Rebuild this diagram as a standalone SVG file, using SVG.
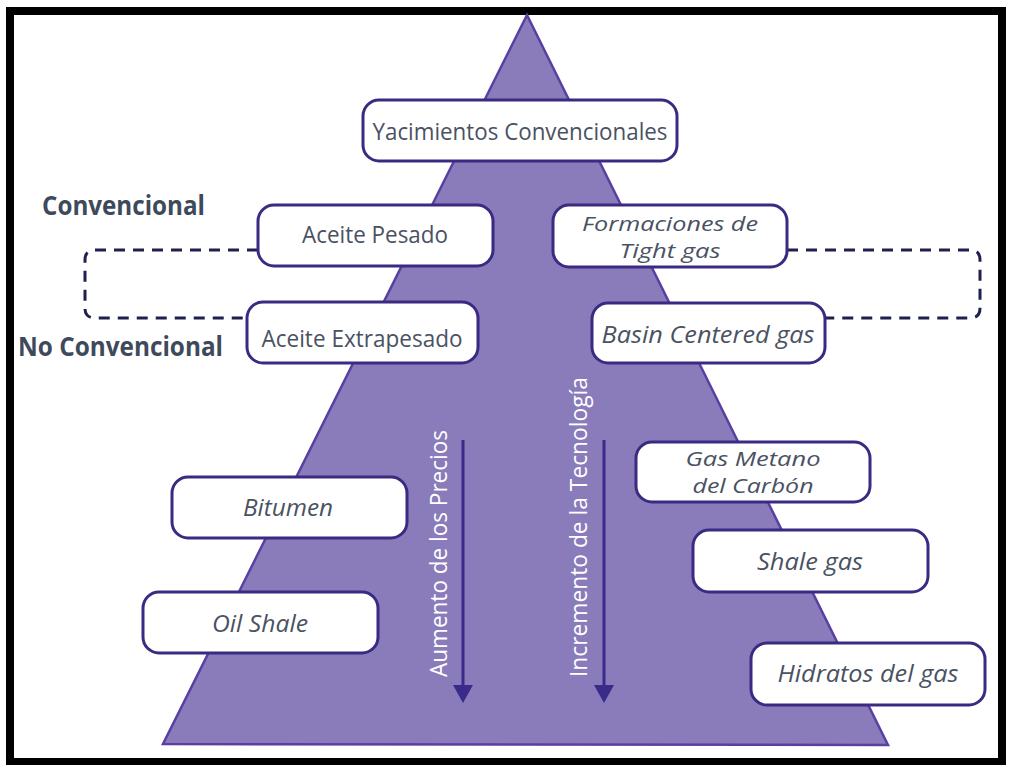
<svg xmlns="http://www.w3.org/2000/svg" width="1010" height="765" viewBox="0 0 1010 765">
<defs>
<style>
.box{fill:#ffffff;stroke:#3b2a82;stroke-width:3}
.t{font-family:"Open Sans","Noto Sans","Liberation Sans",sans-serif;fill:#4a5262;font-size:24px;text-anchor:middle}
.i{font-style:italic}
.sm{font-size:19.5px}
.lbl{font-family:"Open Sans","Noto Sans","Liberation Sans",sans-serif;font-weight:bold;fill:#3e4a5c;font-size:26px}
.rot{font-family:"Open Sans","Noto Sans","Liberation Sans",sans-serif;fill:#ffffff;font-size:23px;text-anchor:middle}
.dash{fill:none;stroke:#1e2150;stroke-width:3;stroke-dasharray:11 8}
.arr{stroke:#3a2a8a;stroke-width:3;fill:none}
</style>
</defs>
<rect x="0" y="0" width="1010" height="765" fill="#ffffff"/>
<rect x="10" y="11" width="992" height="751" fill="none" stroke="#000000" stroke-width="8"/>
<g id="pyramid">
<polygon points="527,15 888,745 163,744" fill="#8a7bbb" stroke="#5a3fa2" stroke-width="2.5"/>
</g>
<g id="connectors">
<path class="dash" d="M258 250 H95 Q85 250 85 260 V308 Q85 318 95 318 H247"/>
<path class="dash" d="M787 250 H970 Q980 250 980 260 V308 Q980 318 970 318 H825"/>
<line class="arr" x1="463" y1="440" x2="463" y2="688"/>
<polygon points="453,685 473,685 463,703" fill="#3a2a8a"/>
<line class="arr" x1="604" y1="440" x2="604" y2="688"/>
<polygon points="594,685 614,685 604,703" fill="#3a2a8a"/>
</g>
<g id="label-precios">
<text class="rot" transform="translate(447,553.5) rotate(-90)" textLength="247" lengthAdjust="spacingAndGlyphs">Aumento de los Precios</text>
</g>
<g id="label-tecnologia">
<text class="rot" transform="translate(587,527) rotate(-90)" textLength="300" lengthAdjust="spacingAndGlyphs">Incremento de la Tecnología</text>
</g>
<g id="label-convencional">
<text class="lbl" x="42" y="215" textLength="163" lengthAdjust="spacingAndGlyphs">Convencional</text>
</g>
<g id="label-noconvencional">
<text class="lbl" x="18" y="356" textLength="205" lengthAdjust="spacingAndGlyphs">No Convencional</text>
</g>
<g id="yacimientos">
<rect class="box" x="363" y="100" width="314" height="61" rx="16"/>
<text class="t" x="520" y="140" textLength="295" lengthAdjust="spacingAndGlyphs">Yacimientos Convencionales</text>
</g>
<g id="aceite-pesado">
<rect class="box" x="258" y="205" width="235" height="61" rx="16"/>
<text class="t" x="375" y="243" textLength="146" lengthAdjust="spacingAndGlyphs">Aceite Pesado</text>
</g>
<g id="aceite-extrapesado">
<rect class="box" x="247" y="302" width="231" height="61" rx="16"/>
<text class="t" x="362" y="347" textLength="201" lengthAdjust="spacingAndGlyphs">Aceite Extrapesado</text>
</g>
<g id="tight-gas">
<rect class="box" x="553" y="205" width="234" height="62" rx="16"/>
<text class="t i sm" x="670" y="231" textLength="176" lengthAdjust="spacingAndGlyphs">Formaciones de</text>
<text class="t i sm" x="670" y="258" textLength="101" lengthAdjust="spacingAndGlyphs">Tight gas</text>
</g>
<g id="basin-centered">
<rect class="box" x="592" y="303" width="233" height="60" rx="16"/>
<text class="t i" x="708" y="343" textLength="213" lengthAdjust="spacingAndGlyphs">Basin Centered gas</text>
</g>
<g id="gas-metano">
<rect class="box" x="636" y="442" width="234" height="60" rx="16"/>
<text class="t i sm" x="753" y="466" textLength="135" lengthAdjust="spacingAndGlyphs">Gas Metano</text>
<text class="t i sm" x="753" y="493" textLength="121" lengthAdjust="spacingAndGlyphs">del Carbón</text>
</g>
<g id="shale-gas">
<rect class="box" x="693" y="530" width="235" height="62" rx="16"/>
<text class="t i" x="810" y="570" textLength="106" lengthAdjust="spacingAndGlyphs">Shale gas</text>
</g>
<g id="hidratos">
<rect class="box" x="751" y="643" width="234" height="62" rx="16"/>
<text class="t i" x="868" y="682" textLength="181" lengthAdjust="spacingAndGlyphs">Hidratos del gas</text>
</g>
<g id="bitumen">
<rect class="box" x="172" y="477" width="235" height="61" rx="16"/>
<text class="t i" x="288" y="516" textLength="90" lengthAdjust="spacingAndGlyphs">Bitumen</text>
</g>
<g id="oil-shale">
<rect class="box" x="143" y="592" width="235" height="61" rx="16"/>
<text class="t i" x="260" y="632" textLength="96" lengthAdjust="spacingAndGlyphs">Oil Shale</text>
</g>
</svg>
